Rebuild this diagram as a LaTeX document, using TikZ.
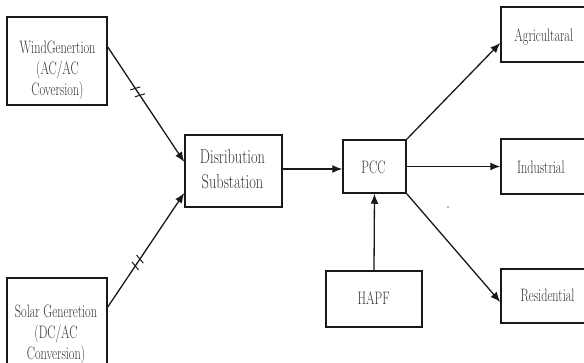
\documentclass[tikz,border=0pt]{standalone}
\usepackage{graphicx}
\usetikzlibrary{arrows.meta,decorations.markings,calc}
\newcommand\sqtxt[2][0.68]{\scalebox{#1}[1]{\begin{tabular}{@{}c@{}}#2\end{tabular}}}
\tikzset{
  box/.style={draw=black!90,line width=1.5pt,inner sep=0pt},
  lbl/.style={inner sep=0pt,text=black!80,font=\fontsize{18}{21}\selectfont},
  biglbl/.style={inner sep=0pt,text=black!80,font=\fontsize{20}{25}\selectfont},
  conn/.style={line width=1.3pt,draw=black!90,-{Latex[length=10pt,width=8pt]}},
  ticks/.style={postaction={decorate,decoration={markings,
    mark=at position 0.36 with {\draw[-,line width=1pt] (-1.5pt,-5pt)--(1.5pt,5pt);},
    mark=at position 0.42 with {\draw[-,line width=1pt] (-1.5pt,-5pt)--(1.5pt,5pt);}}}}
}
\begin{document}
\begin{tikzpicture}[x=1pt,y=-1pt]
\useasboundingbox (0,0) rectangle (584,363);
% boxes
\node[box,minimum width=100pt,minimum height=88pt] (wind) at (57,61) {};
\node[box,minimum width=100pt,minimum height=112pt] (solar) at (57,334) {};
\node[box,minimum width=97pt,minimum height=72pt] (dist) at (233.5,171) {};
\node[box,minimum width=63pt,minimum height=53pt] (pcc) at (374.5,166.5) {};
\node[box,minimum width=96pt,minimum height=56pt] (hapf) at (374,299) {};
\node[box,minimum width=87pt,minimum height=55pt] (agri) at (544.5,34.5) {};
\node[box,minimum width=87pt,minimum height=55pt] (ind) at (544.5,166.5) {};
\node[box,minimum width=87pt,minimum height=54pt] (res) at (544.5,296) {};
% texts
\node[lbl] (windt) at (57.5,70) {\sqtxt{WindGenertion\\(AC/AC\\Coversion)}};
\node[lbl] (solart) at (56,334) {\sqtxt{Solar Generetion\\(DC/AC\\Conversion)}};
\node[biglbl] (distt) at (232.5,171) {\sqtxt[0.72]{Disribution\\Substation}};
\node[lbl] (pcct) at (373.5,169.5) {\sqtxt{PCC}};
\node[lbl] (hapft) at (373.7,300) {\sqtxt{HAPF}};
\node[lbl] (agrit) at (543.8,37.5) {\sqtxt{Agricultaral}};
\node[lbl] (indt) at (540.8,169.5) {\sqtxt{Industrial}};
\node[lbl] (rest) at (547.5,297.5) {\sqtxt{Residential}};
% connectors
\draw[conn,ticks] ([yshift=14pt]wind.east) -- ([yshift=9pt]dist.west);
\draw[conn,ticks] ([yshift=27pt]solar.east) -- ([yshift=-22pt]dist.west);
\draw[conn] ([yshift=2pt]dist.east) -- ([yshift=2pt]dist.east -| pcc.west);
\draw[conn] (hapf.north) -- (pcc.south);
\draw[conn] (pcc.north east) -- ([yshift=-8.5pt]agri.west);
\draw[conn] (pcc.east) -- (ind.west);
\draw[conn] (pcc.south east) -- ([yshift=-6pt]res.west);
\fill[black!60] (448,207) circle (0.8pt);
\end{tikzpicture}
\end{document}
